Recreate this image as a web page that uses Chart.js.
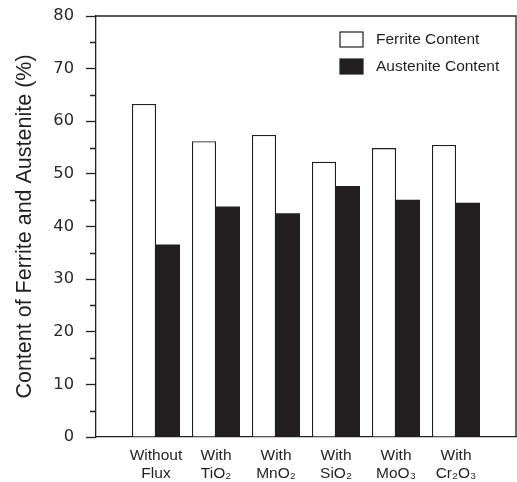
<!DOCTYPE html>
<html>
<head>
<meta charset="utf-8">
<script src="https://cdn.jsdelivr.net/npm/chart.js@4.4.1/dist/chart.umd.min.js"></script>
<style>
  html, body { margin: 0; padding: 0; background: #ffffff; }
  #wrap { width: 517px; height: 482px; }
</style>
</head>
<body>
<div id="wrap"><canvas id="c" width="517" height="482"></canvas></div>
<script>
// Flux conditions (two-line tick labels)
const categories = [
  ['Without', 'Flux'],
  ['With', 'TiO₂'],
  ['With', 'MnO₂'],
  ['With', 'SiO₂'],
  ['With', 'MoO₃'],
  ['With', 'Cr₂O₃']
];
// Phase content, %
const ferrite   = [63.3, 56.2, 57.4, 52.3, 54.9, 55.5];
const austenite = [36.6, 43.8, 42.5, 47.7, 45.1, 44.5];
// Value axis
const yTicksMajor = [0, 10, 20, 30, 40, 50, 60, 70, 80];
const yTicksMinor = [5, 15, 25, 35, 45, 55, 65, 75];

const INK = '#231f20';

// Empty slots at both ends give the spacing between the frame and the first/last group
const labels = [''].concat(categories, ['']);
const pad = arr => [null].concat(arr, [null]);

// Minor ticks and the top/right sides of the frame
const framePlugin = {
  id: 'frame',
  afterDraw(chart) {
    const { ctx, chartArea: a } = chart;
    const y = chart.scales.y;
    ctx.save();
    ctx.strokeStyle = INK;
    ctx.lineWidth = 1.3;
    ctx.beginPath();
    ctx.moveTo(a.left, a.top);
    ctx.lineTo(a.right, a.top);
    ctx.lineTo(a.right, a.bottom);
    ctx.stroke();
    ctx.beginPath();
    yTicksMinor.forEach(v => {
      const py = Math.round(y.getPixelForValue(v)) + 0.5;
      ctx.moveTo(a.left - 6, py);
      ctx.lineTo(a.left, py);
    });
    ctx.stroke();
    ctx.restore();
  }
};

// Legend drawn in the upper right of the plot area
const legendPlugin = {
  id: 'boxLegend',
  afterDraw(chart) {
    const { ctx, chartArea: a } = chart;
    const x0 = a.right - 176;
    ctx.save();
    ctx.font = '15.5px "Liberation Sans", Arial, sans-serif';
    ctx.textBaseline = 'middle';
    chart.data.datasets.forEach((ds, i) => {
      const top = a.top + 16 + i * 27;
      ctx.fillStyle = ds.backgroundColor;
      ctx.fillRect(x0, top, 23, 15);
      ctx.strokeStyle = INK;
      ctx.lineWidth = 1.2;
      ctx.strokeRect(x0, top, 23, 15);
      ctx.fillStyle = INK;
      ctx.fillText(ds.label, x0 + 36, top + 8);
    });
    ctx.restore();
  }
};

new Chart(document.getElementById('c'), {
  type: 'bar',
  data: {
    labels: labels,
    datasets: [
      {
        label: 'Ferrite Content',
        data: pad(ferrite),
        backgroundColor: '#ffffff',
        borderColor: INK,
        borderWidth: 1.3,
        categoryPercentage: 0.8,
        barPercentage: 1.0
      },
      {
        label: 'Austenite Content',
        data: pad(austenite),
        backgroundColor: INK,
        borderColor: INK,
        borderWidth: 0,
        categoryPercentage: 0.8,
        barPercentage: 1.0
      }
    ]
  },
  options: {
    responsive: false,
    animation: false,
    layout: { padding: { top: 16, right: 1, left: 0, bottom: 0 } },
    plugins: {
      legend: { display: false },
      tooltip: { enabled: false }
    },
    scales: {
      x: {
        type: 'category',
        offset: false,
        grid: { display: false, drawTicks: false },
        border: { display: true, color: INK, width: 1.3 },
        ticks: {
          color: INK,
          padding: 9,
          maxRotation: 0,
          autoSkip: false,
          font: { family: '"Liberation Sans", Arial, sans-serif', size: 15.5, lineHeight: 1.2 }
        },
        afterFit(scale) {
          scale.height = 45;
          scale.paddingLeft = 0;
          scale.paddingRight = 0;
        }
      },
      y: {
        min: 0,
        max: 80,
        afterBuildTicks(scale) {
          scale.ticks = yTicksMajor.map(v => ({ value: v }));
        },
        grid: {
          drawOnChartArea: false,
          drawTicks: true,
          tickLength: 10,
          tickColor: INK,
          tickWidth: 1.3
        },
        border: { display: true, color: INK, width: 1.3 },
        ticks: {
          color: '#2a2a2a',
          padding: 12,
          font: { family: '"DejaVu Sans", Verdana, sans-serif', size: 16.3 }
        },
        title: {
          display: true,
          text: 'Content of Ferrite and Austenite (%)',
          color: INK,
          padding: { top: 12, bottom: 0 },
          font: { family: '"Liberation Sans", Arial, sans-serif', size: 21.5, weight: 'normal' }
        },
        afterFit(scale) {
          scale.width = 96;
          scale.paddingTop = 0;
          scale.paddingBottom = 0;
        }
      }
    }
  },
  plugins: [framePlugin, legendPlugin]
});
</script>
</body>
</html>
